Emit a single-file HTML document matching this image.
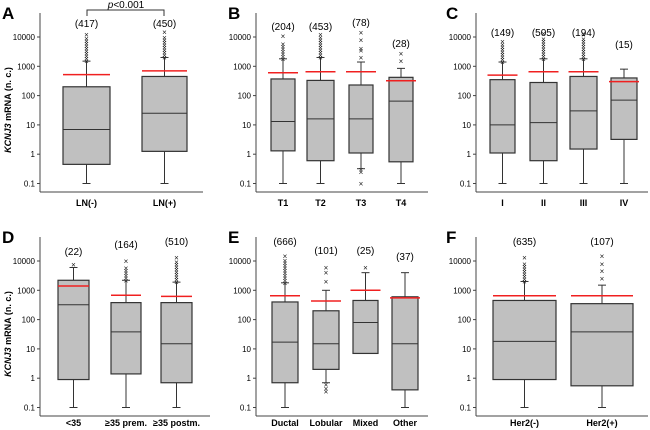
<!DOCTYPE html><html><head><style>body{margin:0;background:#fff}svg{display:block;font-family:"Liberation Sans",sans-serif}</style></head><body>
<svg id="s" width="650" height="430" xmlns="http://www.w3.org/2000/svg"></svg>
<script>
var o='';
function Y(v,off){return 183.5+off-(Math.log10(v)+1)*29.3;}
function panel(P){
 var ax=P.ax,off=P.off;
 o+='<text x="'+P.lx+'" y="'+(19+off)+'" font-size="17" font-weight="bold">'+P.L+'</text>';
 o+='<line x1="'+ax+'" y1="'+(13+off)+'" x2="'+ax+'" y2="'+(192+off)+'" stroke="#444" stroke-width="1"/>';
 o+='<line x1="'+ax+'" y1="'+(192+off)+'" x2="'+P.xe+'" y2="'+(192+off)+'" stroke="#444" stroke-width="1"/>';
 [0.1,1,10,100,1000,10000].forEach(function(v){var y=Y(v,off);
  o+='<line x1="'+(ax-3)+'" y1="'+y+'" x2="'+ax+'" y2="'+y+'" stroke="#444"/>';
  o+='<text x="'+(ax-5)+'" y="'+(y+3)+'" font-size="8" text-anchor="end">'+v+'</text>';});
 P.b.forEach(function(b){var c=(b.x1+b.x2)/2,w=b.x2-b.x1;
  var yt=Y(b.q3,off),yb=Y(b.q1,off);
  o+='<line x1="'+c+'" y1="'+Y(b.wh,off)+'" x2="'+c+'" y2="'+Y(b.wl,off)+'" stroke="#333"/>';
  o+='<line x1="'+(c-4)+'" y1="'+Y(b.wh,off)+'" x2="'+(c+4)+'" y2="'+Y(b.wh,off)+'" stroke="#333"/>';
  o+='<line x1="'+(c-4)+'" y1="'+Y(b.wl,off)+'" x2="'+(c+4)+'" y2="'+Y(b.wl,off)+'" stroke="#333"/>';
  o+='<rect x="'+b.x1+'" y="'+yt+'" width="'+w+'" height="'+(yb-yt)+'" fill="#c0c0c0" stroke="#333" stroke-width="1.2"/>';
  o+='<line x1="'+b.x1+'" y1="'+Y(b.md,off)+'" x2="'+b.x2+'" y2="'+Y(b.md,off)+'" stroke="#333"/>';
  var outs=(b.out||[]).slice();
  if(b.ot){var y1=Y(b.wh,off),y2=Y(b.ot,off);for(var y=y1;y>=y2;y-=2.5)outs.push(Math.pow(10,(183.5+off-y)/29.3-1));}
  outs.forEach(function(v){var y=Y(v,off);o+='<text x="'+c+'" y="'+(y+3)+'" font-size="8" text-anchor="middle" fill="#222">×</text>';});
  var rw=Math.max(w,30);
  o+='<line x1="'+(c-rw/2)+'" y1="'+Y(b.red,off)+'" x2="'+(c+rw/2)+'" y2="'+Y(b.red,off)+'" stroke="#f02020" stroke-width="1.5"/>';
  o+='<text x="'+c+'" y="'+(b.cy+off)+'" font-size="10" text-anchor="middle">('+b.n+')</text>';
  o+='<text x="'+c+'" y="'+(P.ly)+'" font-size="9" font-weight="bold" text-anchor="middle">'+b.l+'</text>';
 });
}
panel({L:'A',lx:2,ax:40,xe:203,off:0,ly:206,b:[
 {x1:63,x2:110,q1:0.45,q3:200,md:7,wl:0.1,wh:1500,ot:9000,out:[12000],red:520,n:417,cy:27,l:'LN(-)'},
 {x1:142,x2:187,q1:1.25,q3:450,md:25,wl:0.1,wh:2000,ot:11000,out:[15000],red:700,n:450,cy:27,l:'LN(+)'}]});
panel({L:'B',lx:228,ax:256,xe:428,off:0,ly:206,b:[
 {x1:271,x2:295,q1:1.3,q3:370,md:13,wl:0.1,wh:1800,ot:7000,out:[11000],red:600,n:204,cy:30,l:'T1'},
 {x1:307,x2:334,q1:0.6,q3:330,md:16,wl:0.1,wh:2000,ot:10000,out:[12000],red:650,n:453,cy:30,l:'T2'},
 {x1:349,x2:373,q1:1.1,q3:230,md:16,wl:0.32,wh:1400,out:[2000,3500,4000,8000,14000,0.25,0.3,0.1],red:650,n:78,cy:26,l:'T3'},
 {x1:389,x2:413,q1:0.55,q3:420,md:65,wl:0.1,wh:850,out:[1500,2700],red:320,n:28,cy:47,l:'T4'}]});
panel({L:'C',lx:446,ax:476,xe:648,off:0,ly:206,b:[
 {x1:490,x2:515,q1:1.1,q3:350,md:10,wl:0.1,wh:1400,ot:6000,out:[7000],red:500,n:149,cy:36,l:'I'},
 {x1:530,x2:557,q1:0.6,q3:280,md:12,wl:0.1,wh:1800,ot:10000,out:[13000],red:650,n:505,cy:36,l:'II'},
 {x1:570,x2:597,q1:1.5,q3:450,md:30,wl:0.1,wh:1800,ot:9000,out:[12000],red:650,n:194,cy:36,l:'III'},
 {x1:611,x2:637,q1:3.2,q3:400,md:70,wl:0.1,wh:800,red:300,n:15,cy:48,l:'IV'}]});
panel({L:'D',lx:2,ax:40,xe:210,off:224,ly:426,b:[
 {x1:58,x2:89,q1:0.9,q3:2200,md:320,wl:0.1,wh:6000,out:[7500],red:1400,n:22,cy:31,l:'&lt;35'},
 {x1:111,x2:141,q1:1.4,q3:380,md:38,wl:0.1,wh:2200,ot:6000,out:[10000],red:680,n:164,cy:24,l:'≥35 prem.'},
 {x1:161,x2:192,q1:0.7,q3:380,md:15,wl:0.1,wh:1900,ot:10000,out:[13000],red:620,n:510,cy:21,l:'≥35 postm.'}]});
panel({L:'E',lx:228,ax:256,xe:428,off:224,ly:426,b:[
 {x1:272,x2:298,q1:0.7,q3:400,md:17,wl:0.1,wh:1800,ot:11000,out:[15000],red:650,n:666,cy:21,l:'Ductal'},
 {x1:313,x2:339,q1:2,q3:200,md:15,wl:0.7,wh:1000,out:[2000,4000,6000,0.35,0.45,0.6],red:430,n:101,cy:30,l:'Lobular'},
 {x1:353,x2:378,q1:7,q3:450,md:80,wl:7,wh:4000,out:[6000],red:1000,n:25,cy:30,l:'Mixed'},
 {x1:392,x2:418,q1:0.4,q3:600,md:15,wl:0.1,wh:4000,red:550,n:37,cy:36,l:'Other'}]});
panel({L:'F',lx:446,ax:476,xe:648,off:224,ly:426,b:[
 {x1:493,x2:556,q1:0.9,q3:450,md:18,wl:0.1,wh:2000,ot:9000,out:[13000],red:650,n:635,cy:21,l:'Her2(-)'},
 {x1:571,x2:633,q1:0.55,q3:350,md:38,wl:0.1,wh:1500,out:[2500,4500,8000,15000],red:650,n:107,cy:21,l:'Her2(+)'}]});
o+='<path d="M87 16 V10 H164 V16" fill="none" stroke="#333"/><text x="126" y="8" font-size="10" text-anchor="middle"><tspan font-style="italic">p</tspan>&lt;0.001</text>';
[110,334].forEach(function(c){o+='<text transform="translate(11,'+c+') rotate(-90)" font-size="9" font-weight="bold" text-anchor="middle"><tspan font-style="italic">KCNJ3</tspan> mRNA (n. c.)</text>';});
document.getElementById('s').innerHTML=o;
</script></body></html>
